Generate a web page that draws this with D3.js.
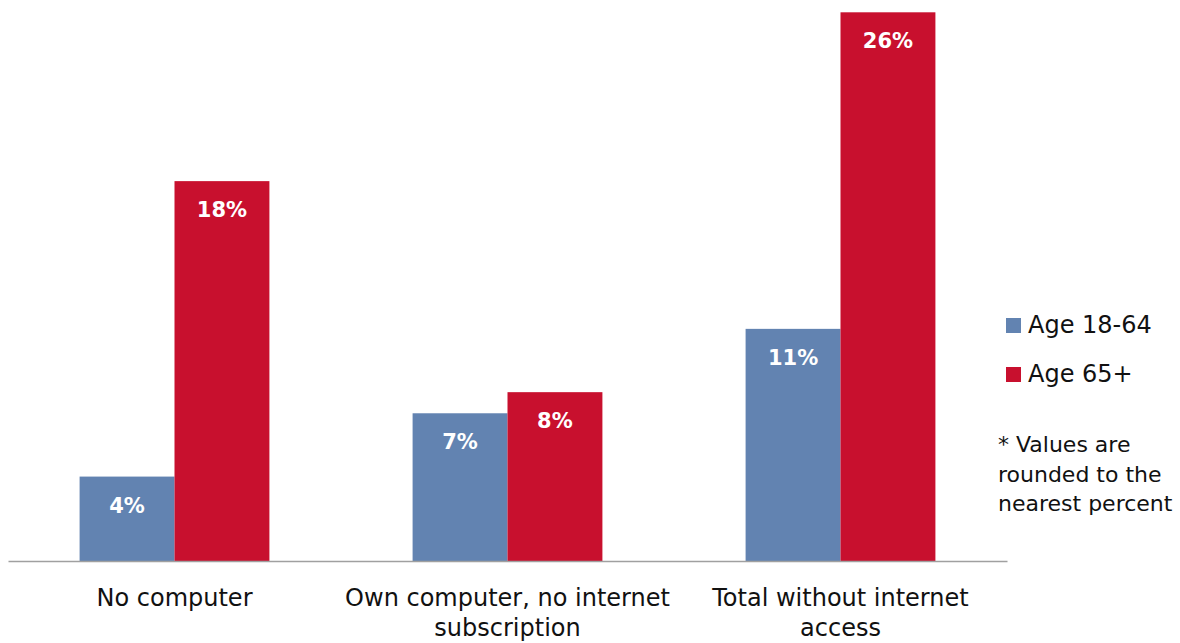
<!DOCTYPE html>
<html>
<head>
<meta charset="utf-8">
<script src="https://cdn.jsdelivr.net/npm/d3@7"></script>
<style>
  html, body { margin: 0; padding: 0; background: #fff; }
  svg { display: block; font-family: "DejaVu Sans", sans-serif; }
</style>
</head>
<body>
<svg id="chart" width="1180" height="643"></svg>
<script>
const categories = [["No computer"], ["Own computer, no internet", "subscription"], ["Total without internet", "access"]];
const seriesNames = ["Age 18-64", "Age 65+"];
const age18to64 = [4, 7, 11];
const age65plus = [18, 8, 26];
const noteLines = ["* Values are", "rounded to the", "nearest percent"];
const colors = ["#6283b1", "#c8102e"];

const svg = d3.select("#chart");
const keys = categories.map(c => c.join(" "));
const series = [age18to64, age65plus];

const x = d3.scaleBand().domain(keys).range([8, 1007]).paddingInner(0.43).paddingOuter(0.215);
const xs = d3.scaleBand().domain(d3.range(series.length)).range([0, x.bandwidth()]);
const y = d3.scaleLinear().domain([0, 26]).range([561, 12.3]);

const groups = svg.selectAll("g.grp").data(keys).join("g")
  .attr("class", "grp")
  .attr("transform", d => `translate(${x(d)},0)`);

groups.each(function(k, i) {
  const g = d3.select(this);
  series.forEach((s, j) => {
    const v = s[i];
    g.append("rect")
      .attr("x", xs(j))
      .attr("y", y(v))
      .attr("width", xs.bandwidth())
      .attr("height", y(0) - y(v))
      .attr("fill", colors[j]);
    g.append("text")
      .attr("x", xs(j) + xs.bandwidth() / 2)
      .attr("y", y(v) + 36)
      .attr("text-anchor", "middle")
      .attr("fill", "#fff")
      .attr("font-weight", "bold")
      .attr("font-size", 21)
      .text(v + "%");
  });
});

// axis line
const axis = d3.axisBottom(x).tickSize(0).tickFormat("");
const ax = svg.append("g").attr("transform", `translate(0,${y(0)})`).call(axis);
ax.select(".domain").attr("stroke", "#a0a0a0").attr("stroke-width", 1.5);

// category labels
svg.selectAll("text.cat").data(categories).join("text")
  .attr("class", "cat")
  .attr("x", (d, i) => x(keys[i]) + x.bandwidth() / 2)
  .attr("y", 606)
  .attr("text-anchor", "middle")
  .attr("font-size", 24)
  .attr("fill", "#111")
  .each(function(d) {
    const t = d3.select(this);
    d.forEach((line, li) => {
      t.append("tspan")
        .attr("x", t.attr("x"))
        .attr("dy", li === 0 ? 0 : 30)
        .text(line);
    });
  });

// legend
const legend = svg.append("g");
seriesNames.forEach((name, j) => {
  legend.append("rect")
    .attr("x", 1006).attr("y", 318 + j * 49)
    .attr("width", 15).attr("height", 15)
    .attr("fill", colors[j]);
  legend.append("text")
    .attr("x", 1028).attr("y", 333 + j * 49)
    .attr("font-size", 24)
    .attr("fill", "#111")
    .text(name);
});

// note
svg.append("g").selectAll("text").data(noteLines).join("text")
  .attr("x", 998)
  .attr("y", (d, i) => 452 + i * 29.5)
  .attr("font-size", 22)
  .attr("fill", "#111")
  .text(d => d);
</script>
</body>
</html>
